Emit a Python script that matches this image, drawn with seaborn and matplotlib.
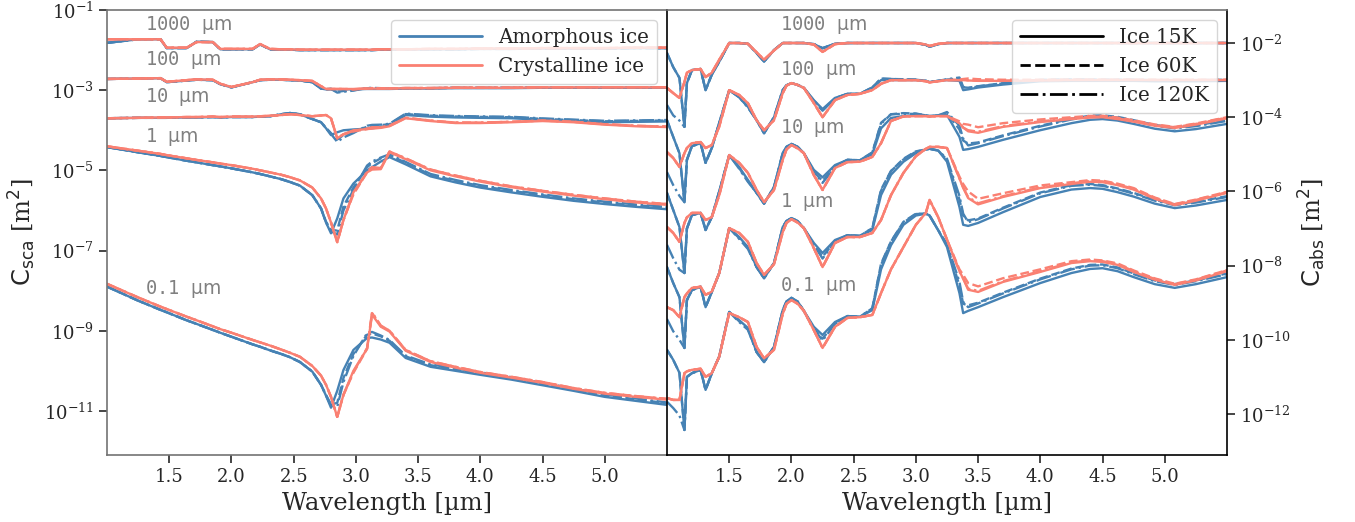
import numpy as np
import pandas as pd
import matplotlib
matplotlib.use("Agg")
import matplotlib.pyplot as plt
import seaborn as sns
from matplotlib.lines import Line2D
from matplotlib.ticker import NullLocator

# ---------------- data (log10 of cross sections) ----------------
size_labels = ["0.1", "1", "10", "100", "1000"]
ice_types = ["Amorphous ice", "Crystalline ice"]
temperatures = ["Ice 15K", "Ice 60K", "Ice 120K"]

wl_sca = [1.0, 1.25, 1.43, 1.48, 1.64, 1.72, 1.85, 1.91, 2.0, 2.17,
          2.23, 2.31, 2.4, 2.47, 2.55, 2.65, 2.72, 2.76, 2.8, 2.85,
          2.9, 2.98, 3.09, 3.13, 3.2, 3.27, 3.4, 3.6, 3.8, 4.0,
          4.25, 4.5, 4.75, 5.0, 5.25, 5.5]

sca_amor_0p1 = [-7.90, -8.25, -8.48, -8.54, -8.74, -8.83, -8.98, -9.05, -9.15, -9.34,
                -9.40, -9.49, -9.58, -9.66, -9.78, -10.02, -10.35, -10.62, -10.92, -10.50,
                -9.98, -9.48, -9.18, -9.17, -9.22, -9.30, -9.68, -9.90, -10.00, -10.10,
                -10.22, -10.36, -10.50, -10.65, -10.75, -10.85]
sca_cryst_0p1 = [-7.83, -8.17, -8.40, -8.46, -8.65, -8.74, -8.89, -8.96, -9.05, -9.23,
                 -9.29, -9.37, -9.47, -9.55, -9.65, -9.88, -10.12, -10.35, -10.65, -11.15,
                 -10.60, -10.00, -9.45, -8.60, -8.90, -9.02, -9.50, -9.78, -9.92, -10.05,
                 -10.17, -10.30, -10.45, -10.57, -10.65, -10.72]
sca_amor_1 = [-4.42, -4.55, -4.64, -4.67, -4.76, -4.80, -4.87, -4.90, -4.95, -5.05,
              -5.09, -5.15, -5.22, -5.29, -5.38, -5.62, -5.95, -6.30, -6.57, -6.20,
              -5.70, -5.33, -5.00, -4.92, -4.78, -4.67, -4.85, -5.15, -5.30, -5.43,
              -5.55, -5.66, -5.76, -5.84, -5.91, -5.97]
sca_cryst_1 = [-4.40, -4.51, -4.59, -4.62, -4.70, -4.74, -4.80, -4.83, -4.87, -4.96,
               -5.00, -5.05, -5.11, -5.17, -5.25, -5.43, -5.70, -5.95, -6.30, -6.79,
               -6.24, -5.55, -5.05, -4.98, -4.97, -4.55, -4.72, -5.00, -5.15, -5.28,
               -5.42, -5.53, -5.63, -5.72, -5.80, -5.86]
sca_amor_10 = [-3.70, -3.69, -3.69, -3.69, -3.68, -3.68, -3.67, -3.68, -3.67, -3.67,
               -3.66, -3.65, -3.60, -3.57, -3.60, -3.72, -3.80, -3.95, -4.12, -4.05,
               -4.00, -3.98, -3.96, -3.95, -3.92, -3.88, -3.62, -3.66, -3.68, -3.69,
               -3.70, -3.74, -3.77, -3.80, -3.79, -3.78]
sca_cryst_10 = [-3.70, -3.69, -3.68, -3.68, -3.67, -3.67, -3.66, -3.67, -3.66, -3.66,
                -3.65, -3.64, -3.62, -3.60, -3.62, -3.65, -3.63, -3.62, -3.70, -4.20,
                -4.10, -4.00, -3.97, -3.96, -3.94, -3.90, -3.70, -3.77, -3.82, -3.82,
                -3.80, -3.77, -3.80, -3.86, -3.90, -3.92]
sca_amor_100 = [-2.72, -2.71, -2.70, -2.80, -2.76, -2.74, -2.75, -2.85, -2.93, -2.80,
                -2.75, -2.74, -2.74, -2.75, -2.76, -2.80, -2.96, -2.98, -2.98, -2.98,
                -2.98, -2.98, -2.97, -2.97, -2.97, -2.97, -2.96, -2.96, -2.95, -2.95,
                -2.95, -2.94, -2.94, -2.94, -2.94, -2.94]
sca_cryst_100 = [-2.72, -2.71, -2.70, -2.79, -2.75, -2.73, -2.74, -2.84, -2.92, -2.80,
                 -2.74, -2.73, -2.73, -2.74, -2.75, -2.77, -2.90, -2.97, -2.97, -2.97,
                 -2.97, -2.97, -2.96, -2.96, -2.96, -2.96, -2.95, -2.95, -2.94, -2.94,
                 -2.94, -2.93, -2.93, -2.93, -2.93, -2.93]
sca_amor_1000 = [-1.82, -1.73, -1.73, -1.95, -1.95, -1.79, -1.80, -1.98, -1.98, -1.98,
                 -1.86, -1.98, -1.99, -1.99, -2.00, -2.00, -2.00, -2.00, -2.00, -2.00,
                 -2.00, -2.00, -2.00, -2.00, -1.99, -1.99, -1.99, -1.98, -1.98, -1.97,
                 -1.97, -1.96, -1.96, -1.96, -1.95, -1.95]
sca_cryst_1000 = [-1.73, -1.73, -1.73, -1.94, -1.94, -1.80, -1.80, -1.97, -1.97, -1.97,
                  -1.85, -1.97, -1.98, -1.98, -1.99, -1.99, -1.99, -1.99, -1.99, -1.99,
                  -1.99, -1.99, -1.99, -1.99, -1.98, -1.98, -1.98, -1.97, -1.97, -1.96,
                  -1.96, -1.95, -1.95, -1.95, -1.94, -1.94]

# temperature differences (dex, relative to 15K) in the scattering panel
sca_amor_60K_shift = [0, 0, 0, 0, 0, 0, 0, 0, 0, 0,
                      0, 0, 0, 0, 0, 0, 0, 0.02, 0.08, -0.30,
                      -0.20, -0.10, 0.08, 0.10, 0.08, 0.05, 0.04, 0.04, 0.04, 0.04,
                      0.04, 0.04, 0.04, 0.04, 0.04, 0.04]
sca_amor_120K_shift = [0, 0, 0, 0, 0, 0, 0, 0, 0, 0,
                       0, 0, 0, 0, 0, 0, 0, 0.0, 0.05, -0.40,
                       -0.30, -0.15, 0.12, 0.14, 0.10, 0.07, 0.06, 0.06, 0.06, 0.06,
                       0.06, 0.06, 0.06, 0.06, 0.06, 0.06]
sca_cryst_60K_shift = [0, 0, 0, 0, 0, 0, 0, 0, 0, 0,
                       0, 0, 0, 0, 0, 0, 0, 0, 0, 0,
                       0, -0.05, 0.0, 0.04, 0.02, 0.02, 0.02, 0.02, 0.02, 0.02,
                       0.02, 0.02, 0.02, 0.02, 0.02, 0.02]
sca_cryst_120K_shift = [0, 0, 0, 0, 0, 0, 0, 0, 0, 0,
                        0, 0, 0, 0, 0, 0, 0, 0, 0, 0,
                        0, -0.03, 0.02, 0.06, 0.03, 0.02, 0.02, 0.02, 0.02, 0.02,
                        0.02, 0.02, 0.02, 0.02, 0.02, 0.02]
sca_shift_weight = [1.0, 1.0, 0.6, 0.2, 0.0]

wl_abs = [1.0, 1.05, 1.1, 1.14, 1.16, 1.2, 1.27, 1.31, 1.36, 1.42,
          1.5, 1.58, 1.65, 1.72, 1.78, 1.86, 1.93, 1.96, 2.0, 2.05,
          2.1, 2.18, 2.25, 2.35, 2.45, 2.55, 2.65, 2.72, 2.8, 2.9,
          3.0, 3.08, 3.11, 3.18, 3.25, 3.35, 3.38, 3.42, 3.5, 3.7,
          4.0, 4.25, 4.4, 4.5, 4.62, 4.75, 4.92, 5.08, 5.25, 5.5]

abs_amor_0p1 = [-10.27, -10.54, -10.89, -12.43, -11.00, -10.90, -10.81, -11.35, -10.90, -10.45,
                -9.25, -9.47, -9.68, -10.33, -10.60, -10.19, -9.20, -8.97, -8.87, -8.97,
                -9.22, -9.65, -9.87, -9.52, -9.36, -9.38, -9.20, -8.10, -7.45, -6.90,
                -6.65, -6.60, -6.65, -7.05, -7.50, -8.74, -9.28, -9.22, -9.12, -8.85,
                -8.47, -8.20, -8.09, -8.07, -8.15, -8.31, -8.50, -8.60, -8.50, -8.31]
abs_cryst_0p1 = [-11.57, -11.62, -11.62, -10.90, -10.85, -10.81, -10.78, -11.00, -10.90, -10.45,
                 -9.28, -9.39, -9.52, -10.19, -10.50, -10.27, -9.30, -9.03, -8.93, -9.03,
                 -9.22, -9.74, -10.22, -9.65, -9.41, -9.39, -9.33, -8.74, -8.10, -7.50,
                 -6.90, -6.58, -6.23, -6.70, -7.30, -8.15, -8.35, -8.65, -8.71, -8.44,
                 -8.17, -7.93, -7.88, -7.90, -7.98, -8.17, -8.38, -8.52, -8.40, -8.15]
abs_amor_1 = [-8.04, -8.47, -8.85, -10.22, -8.93, -8.66, -8.57, -9.12, -8.71, -8.20,
              -6.99, -7.23, -7.50, -8.04, -8.34, -7.93, -6.96, -6.80, -6.72, -6.80,
              -6.99, -7.39, -7.66, -7.31, -7.18, -7.20, -7.04, -6.10, -5.55, -5.20,
              -4.97, -4.87, -4.85, -4.90, -5.20, -6.42, -6.90, -6.93, -6.85, -6.56,
              -6.15, -5.95, -5.91, -5.93, -6.02, -6.14, -6.33, -6.45, -6.38, -6.23]
abs_cryst_1 = [-9.12, -9.20, -9.39, -8.85, -8.75, -8.60, -8.57, -8.79, -8.70, -8.20,
               -6.99, -7.12, -7.36, -7.93, -8.25, -7.96, -7.10, -6.85, -6.75, -6.84,
               -6.99, -7.53, -8.04, -7.39, -7.23, -7.23, -7.12, -6.77, -6.10, -5.50,
               -5.05, -4.85, -4.80, -4.80, -4.83, -5.65, -5.90, -6.18, -6.35, -6.15,
               -5.91, -5.80, -5.74, -5.75, -5.83, -5.95, -6.20, -6.37, -6.25, -6.04]
abs_amor_10 = [-6.04, -6.50, -6.96, -8.20, -7.00, -6.64, -6.58, -7.04, -6.69, -6.00,
               -5.02, -5.34, -5.69, -6.04, -6.33, -5.88, -4.97, -4.80, -4.72, -4.80,
               -4.97, -5.42, -5.62, -5.29, -5.15, -5.16, -5.00, -4.30, -4.02, -3.97,
               -3.95, -3.95, -3.97, -3.95, -3.94, -4.53, -4.88, -4.86, -4.80, -4.61,
               -4.35, -4.16, -4.07, -4.05, -4.09, -4.18, -4.31, -4.38, -4.32, -4.18]
abs_cryst_10 = [-6.96, -7.12, -7.36, -6.85, -6.70, -6.58, -6.58, -6.77, -6.69, -6.10,
                -5.02, -5.23, -5.50, -5.96, -6.29, -5.96, -5.15, -4.87, -4.75, -4.84,
                -4.97, -5.56, -5.96, -5.37, -5.21, -5.20, -5.07, -4.70, -4.10, -3.98,
                -3.97, -3.97, -3.98, -3.97, -3.97, -4.16, -4.28, -4.38, -4.42, -4.26,
                -4.13, -4.05, -4.01, -4.00, -4.05, -4.12, -4.23, -4.29, -4.20, -4.03]
abs_amor_100 = [-4.08, -4.53, -4.97, -6.29, -5.15, -4.78, -4.70, -5.23, -4.83, -4.15,
                -3.27, -3.45, -3.72, -4.08, -4.43, -4.00, -3.27, -3.14, -3.08, -3.13,
                -3.21, -3.54, -3.78, -3.48, -3.37, -3.37, -3.21, -3.00, -3.00, -3.00,
                -3.00, -3.02, -3.05, -3.02, -3.00, -3.02, -3.27, -3.25, -3.20, -3.12,
                -3.03, -3.02, -3.02, -3.02, -3.02, -3.02, -3.03, -3.03, -3.03, -3.02]
abs_cryst_100 = [-4.94, -5.10, -5.34, -4.97, -4.83, -4.70, -4.67, -4.83, -4.75, -4.25,
                 -3.27, -3.40, -3.62, -4.08, -4.35, -4.08, -3.35, -3.15, -3.08, -3.13,
                 -3.21, -3.62, -4.00, -3.54, -3.40, -3.37, -3.27, -3.10, -3.00, -3.00,
                 -3.00, -3.03, -3.06, -3.03, -3.00, -3.00, -3.00, -3.01, -3.02, -3.02,
                 -3.01, -3.00, -3.00, -3.00, -3.00, -3.00, -3.00, -3.00, -3.00, -3.00]
abs_amor_1000 = [-2.27, -2.65, -2.94, -4.26, -3.08, -2.73, -2.70, -3.27, -2.85, -2.50,
                 -2.00, -2.00, -2.02, -2.27, -2.50, -2.19, -2.00, -2.00, -2.00, -2.00,
                 -2.00, -2.03, -2.14, -2.02, -2.00, -2.00, -2.00, -2.00, -2.00, -2.00,
                 -2.00, -2.05, -2.10, -2.03, -2.00, -2.00, -2.00, -2.00, -2.00, -2.00,
                 -2.00, -2.00, -2.00, -2.00, -2.00, -2.00, -2.00, -2.00, -2.00, -2.00]
abs_cryst_1000 = [-3.21, -3.35, -3.48, -3.05, -2.80, -2.73, -2.70, -2.92, -2.80, -2.45,
                  -2.00, -2.00, -2.02, -2.25, -2.45, -2.20, -2.00, -2.00, -2.00, -2.00,
                  -2.00, -2.04, -2.24, -2.03, -2.00, -2.00, -2.00, -2.00, -2.00, -2.00,
                  -2.00, -2.04, -2.08, -2.02, -2.00, -2.00, -2.00, -2.00, -2.00, -2.00,
                  -2.00, -2.00, -2.00, -2.00, -2.00, -2.00, -2.00, -2.00, -2.00, -2.00]

# temperature differences (dex, relative to 15K) in the absorption panel
abs_amor_60K_shift = [0, 0, 0, 0, 0, 0, 0, 0, 0, 0,
                      0, -0.03, -0.03, 0, 0, 0, 0, 0, 0, 0,
                      0, -0.05, -0.10, -0.03, 0, 0, 0.05, 0.15, 0.10, 0.08,
                      0.05, 0, 0, 0, 0.05, 0.20, 0.25, 0.15, 0.12, 0.12,
                      0.12, 0.12, 0.11, 0.10, 0.10, 0.10, 0.10, 0.10, 0.10, 0.10]
abs_amor_120K_shift = [-1.40, -1.30, -1.15, 0, 0, 0, 0, 0, 0, 0,
                       0, -0.05, -0.05, 0, 0, 0, 0, 0, 0, 0,
                       0, -0.05, -0.15, -0.05, 0, 0, 0.05, 0.12, 0.10, 0.06,
                       0.04, 0, 0, 0, 0.08, 0.30, 0.30, 0.10, 0.10, 0.10,
                       0.10, 0.10, 0.09, 0.08, 0.08, 0.08, 0.08, 0.08, 0.08, 0.08]
abs_cryst_60K_shift = [0, 0, 0, 0, 0, 0, 0, 0, 0, 0,
                       0, 0, 0, 0, 0, 0, 0, 0, 0, 0,
                       0, 0, 0, 0, 0, 0, 0, 0, 0, 0,
                       0, 0, 0, 0, 0, 0.05, 0.10, 0.18, 0.15, 0.10,
                       0.07, 0.05, 0.045, 0.04, 0.04, 0.04, 0.035, 0.03, 0.03, 0.03]
abs_cryst_120K_shift = [0, 0, 0, 0, 0, 0, 0, 0, 0, 0,
                        0, 0, 0, 0, 0, 0, 0, 0, 0, 0,
                        0, 0, 0, 0, 0, 0, 0, 0, 0, 0,
                        0, 0, 0, 0, 0, 0, 0, 0.03, 0.03, 0.02,
                        0.02, 0.02, 0.02, 0.02, 0.02, 0.02, 0.02, 0.02, 0.02, 0.02]
abs_shift_weight = [1.0, 1.0, 1.0, 0.3, 0.0]

# ---------------- assemble long tables ----------------
sca_curves = {
    ("Amorphous ice", "0.1"): sca_amor_0p1, ("Crystalline ice", "0.1"): sca_cryst_0p1,
    ("Amorphous ice", "1"): sca_amor_1, ("Crystalline ice", "1"): sca_cryst_1,
    ("Amorphous ice", "10"): sca_amor_10, ("Crystalline ice", "10"): sca_cryst_10,
    ("Amorphous ice", "100"): sca_amor_100, ("Crystalline ice", "100"): sca_cryst_100,
    ("Amorphous ice", "1000"): sca_amor_1000, ("Crystalline ice", "1000"): sca_cryst_1000,
}
abs_curves = {
    ("Amorphous ice", "0.1"): abs_amor_0p1, ("Crystalline ice", "0.1"): abs_cryst_0p1,
    ("Amorphous ice", "1"): abs_amor_1, ("Crystalline ice", "1"): abs_cryst_1,
    ("Amorphous ice", "10"): abs_amor_10, ("Crystalline ice", "10"): abs_cryst_10,
    ("Amorphous ice", "100"): abs_amor_100, ("Crystalline ice", "100"): abs_cryst_100,
    ("Amorphous ice", "1000"): abs_amor_1000, ("Crystalline ice", "1000"): abs_cryst_1000,
}
sca_shifts = {
    ("Amorphous ice", "Ice 15K"): [0] * len(wl_sca),
    ("Amorphous ice", "Ice 60K"): sca_amor_60K_shift,
    ("Amorphous ice", "Ice 120K"): sca_amor_120K_shift,
    ("Crystalline ice", "Ice 15K"): [0] * len(wl_sca),
    ("Crystalline ice", "Ice 60K"): sca_cryst_60K_shift,
    ("Crystalline ice", "Ice 120K"): sca_cryst_120K_shift,
}
abs_shifts = {
    ("Amorphous ice", "Ice 15K"): [0] * len(wl_abs),
    ("Amorphous ice", "Ice 60K"): abs_amor_60K_shift,
    ("Amorphous ice", "Ice 120K"): abs_amor_120K_shift,
    ("Crystalline ice", "Ice 15K"): [0] * len(wl_abs),
    ("Crystalline ice", "Ice 60K"): abs_cryst_60K_shift,
    ("Crystalline ice", "Ice 120K"): abs_cryst_120K_shift,
}


def make_frame(wl, curves, shifts, weights):
    wl = np.asarray(wl, dtype=float)
    parts = []
    for si, lab in enumerate(size_labels):
        for ice in ice_types:
            base = np.asarray(curves[(ice, lab)], dtype=float)
            for temp in temperatures:
                sh = np.asarray(shifts[(ice, temp)], dtype=float)
                w = np.where(wl < 1.13, 1.0, weights[si])
                parts.append(pd.DataFrame({
                    "wl": wl, "C": 10.0 ** (base + w * sh),
                    "ice": ice, "temp": temp, "size": lab}))
    return pd.concat(parts, ignore_index=True)


df_sca = make_frame(wl_sca, sca_curves, sca_shifts, sca_shift_weight)
df_abs = make_frame(wl_abs, abs_curves, abs_shifts, abs_shift_weight)

# ---------------- style ----------------
sns.set_style("ticks")
plt.rcParams["font.family"] = ["DejaVu Serif"]
plt.rcParams["mathtext.fontset"] = "dejavusans"

palette = {"Amorphous ice": "steelblue", "Crystalline ice": "salmon"}
dashes = {"Ice 15K": "", "Ice 60K": (3.7, 1.6), "Ice 120K": (6.4, 1.6, 1.0, 1.6)}
LW = 1.7

fig = plt.figure(figsize=(13.55, 5.22), dpi=100)
W, H = 1355.0, 522.0
ax1 = fig.add_axes([107 / W, (H - 455) / H, 560 / W, 445 / H])
ax2 = fig.add_axes([667 / W, (H - 455) / H, 560 / W, 445 / H])

for ax, df in ((ax1, df_sca), (ax2, df_abs)):
    sns.lineplot(data=df, x="wl", y="C", hue="ice", style="temp", units="size",
                 estimator=None, sort=False, palette=palette, dashes=dashes,
                 hue_order=ice_types, style_order=temperatures,
                 linewidth=LW, legend=False, ax=ax)
    ax.set_yscale("log")
    ax.set_xlim(1.0, 5.5)
    ax.set_xticks([1.5, 2.0, 2.5, 3.0, 3.5, 4.0, 4.5, 5.0])
    ax.set_xlabel("Wavelength [µm]", fontsize=17.5)
    ax.yaxis.set_minor_locator(NullLocator())
    ax.tick_params(axis="both", which="major", labelsize=13, length=6, width=1.2)

ax1.set_ylim(10 ** -12.1, 10 ** -1.0)
ax1.set_yticks([1e-1, 1e-3, 1e-5, 1e-7, 1e-9, 1e-11])
ax1.yaxis.set_minor_locator(NullLocator())
ax1.set_ylabel(r"$\mathrm{C}_{\mathrm{sca}}$ [m$^2$]", fontsize=17.5)

ax2.set_ylim(10 ** -13.105, 10 ** -1.11)
ax2.set_yticks([1e-2, 1e-4, 1e-6, 1e-8, 1e-10, 1e-12])
ax2.yaxis.set_minor_locator(NullLocator())
ax2.yaxis.tick_right()
ax2.yaxis.set_label_position("right")
ax2.set_ylabel(r"$\mathrm{C}_{\mathrm{abs}}$ [m$^2$]", fontsize=17.5)

grey_edge = "0.45"
for side in ("left", "top", "bottom"):
    ax1.spines[side].set_color(grey_edge)
    ax1.spines[side].set_linewidth(1.2)
ax1.spines["right"].set_visible(False)
for side in ("left", "right", "bottom"):
    ax2.spines[side].set_color("black")
    ax2.spines[side].set_linewidth(1.2)
ax2.spines["top"].set_color(grey_edge)
ax2.spines["top"].set_linewidth(1.2)

# size annotations
sca_label_y = [10 ** -7.96, 10 ** -4.17, 10 ** -3.17, 10 ** -2.25, 10 ** -1.37]
abs_label_y = [10 ** -8.55, 10 ** -6.29, 10 ** -4.29, 10 ** -2.73, 10 ** -1.51]
for lab, ys, ya in zip(size_labels, sca_label_y, abs_label_y):
    txt = lab + r" $\mathrm{\mu m}$"
    ax1.text(1.305, ys, txt, family="DejaVu Sans Mono", fontsize=13.5,
             color="grey", ha="left", va="center")
    ax2.text(1.908, ya, txt, family="DejaVu Sans Mono", fontsize=13.5,
             color="grey", ha="left", va="center")

# legends
h_ice = [Line2D([], [], color=palette[i], lw=2.0) for i in ice_types]
ax1.legend(h_ice, ice_types, loc="upper right", fontsize=14.3, handlelength=4.2)
h_temp = [Line2D([], [], color="black", lw=2.0, linestyle="-"),
          Line2D([], [], color="black", lw=2.0, linestyle="--"),
          Line2D([], [], color="black", lw=2.0, linestyle="-.")]
ax2.legend(h_temp, temperatures, loc="upper right", fontsize=14.3, handlelength=4.2)

fig.savefig("out.png", dpi=100)
